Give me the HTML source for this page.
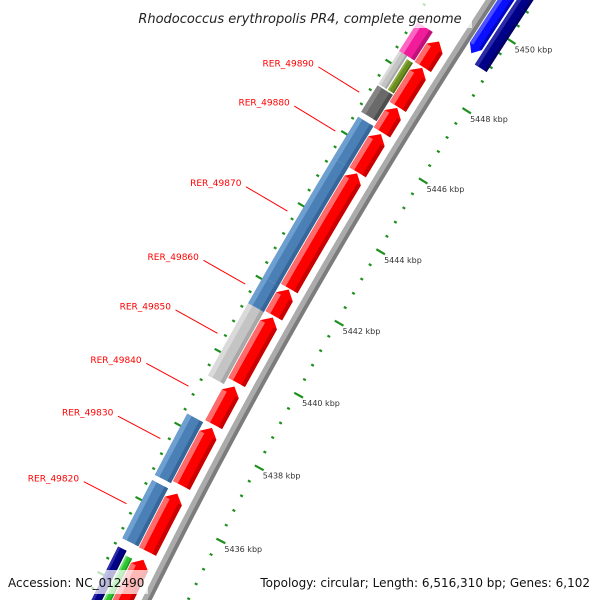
<!DOCTYPE html>
<html><head><meta charset="utf-8"><style>
html,body{margin:0;padding:0;background:#fff;width:600px;height:600px;overflow:hidden;}
svg{display:block;}
</style></head><body>
<svg id="map" width="600" height="600" viewBox="0 0 600 600" xmlns="http://www.w3.org/2000/svg">
<g id="ticks"></g>
<g id="backbone"></g>
<g id="features"></g>
<g id="labels"></g>
<g id="kbp"></g>
<rect x="128" y="2" width="344" height="26" fill="#fff" fill-opacity="0.72"/>
<text x="300" y="23" text-anchor="middle" font-family="DejaVu Sans, sans-serif" font-style="italic" font-size="13" fill="#222">Rhodococcus erythropolis PR4, complete genome</text>
<rect x="0" y="570" width="148" height="24" fill="#fff" fill-opacity="0.72"/>
<text x="8" y="587" font-family="DejaVu Sans, sans-serif" font-size="12" fill="#111">Accession: NC_012490</text>
<rect x="257" y="570" width="343" height="24" fill="#fff" fill-opacity="0.72"/>
<text x="590" y="587" text-anchor="end" font-family="DejaVu Sans, sans-serif" font-size="12" fill="#111">Topology: circular; Length: 6,516,310 bp; Genes: 6,102</text>
</svg>
<script>
// ---- data (kbp positions) ----
const majorTicks = [5432,5434,5436,5438,5440,5442,5444,5446,5448,5450,5452];
const tickLabels = ["5432 kbp","5434 kbp","5436 kbp","5438 kbp","5440 kbp","5442 kbp","5444 kbp","5446 kbp","5448 kbp","5450 kbp","5452 kbp"];
const minorStep = 0.4;

const redStarts = [5432.3,5434.97,5436.75,5438.40,5439.55,5441.38,5442.13,5445.36,5446.48,5447.20,5448.33];
const redEnds   = [5434.75,5436.53,5438.31,5439.44,5441.33,5442.10,5445.33,5446.43,5447.17,5448.30,5449.05];
const redNames  = ["","","","RER_49840","","","","","","",""];

const outerStarts = [5432.3,5432.3,5434.98,5436.68,5439.37,5441.34,5442.06,5445.35,5446.64,5447.42,5447.42,5448.35];
const outerEnds   = [5434.76,5434.65,5436.54,5438.33,5441.34,5442.06,5445.35,5446.50,5447.38,5448.42,5448.28,5449.16];
const outerKinds  = ["navy","green","blue","blue","lgray","blue","blue","blue","dgray","lgray","olive","pink"];
const outerLanes  = ["out","in","full","full","full","full","full","full","full","out","in","full"];
const outerNames  = ["","","RER_49820","RER_49830","RER_49850","RER_49860","RER_49870","RER_49880","RER_49890","","",""];

const innerStarts = [5449.23,5449.05];
const innerEnds   = [5452.5,5452.5];
const innerKinds  = ["brightblue","navy"];

// ---- geometry ----
const CX=5320, CY=3170, TH0=-150.25, K=0.4125;
function P(bp,r){const t=(TH0+(bp-5442)*K)*Math.PI/180;return [CX+r*Math.cos(t),CY+r*Math.sin(t)];}
function arc(b1,b2,r){const n=Math.max(2,Math.ceil(Math.abs(b2-b1)/0.25));const a=[];for(let i=0;i<=n;i++){a.push(P(b1+(b2-b1)*i/n,r));}return a;}
function ps(a){return a.map(p=>p[0].toFixed(2)+","+p[1].toFixed(2)).join(" ");}
const NS="http://www.w3.org/2000/svg";
function poly(parent,pts,fill,name){const e=document.createElementNS(NS,"polygon");e.setAttribute("points",ps(pts));e.setAttribute("fill",fill);


parent.appendChild(e);return e;}
function band(parent,b1,b2,r1,r2,fill,name){return poly(parent,arc(b1,b2,r2).concat(arc(b2,b1,r1)),fill,name);}
const PAL={red:["#ff0000","#ff6a6a","#c80000"],blue:["#4a80b6","#6d9fd0","#36669a"],lgray:["#c4c4c4","#dadada","#a8a8a8"],
dgray:["#6a6a6a","#858585","#4e4e4e"],navy:["#000088","#2a2aa8","#000066"],green:["#2fc42f","#6ae06a","#1f9a1f"],
olive:["#6b8e23","#8aab3c","#4f6c14"],pink:["#f01c9a","#ff66c4","#c0107a"],brightblue:["#0a10ff","#4a50ff","#0008c0"]};

function feature(parent,b1,b2,r1,r2,kind,arrow,name){
  const c=PAL[kind];const h=0.2;const w=r2-r1;
  const g=document.createElementNS(NS,"g");
  
  
  parent.appendChild(g);
  let s=b1,e=b2;
  if(arrow==="fwd"){e=b2-h;}
  if(arrow==="rev"){s=b1+h;}
  let pts=arc(s,e,r2);
  if(arrow==="fwd")pts.push(P(b2,(r1+r2)/2));
  pts=pts.concat(arc(e,s,r1));
  if(arrow==="rev")pts.push(P(b1,(r1+r2)/2));
  poly(g,pts,c[0],'feature-body');
  band(g,s,e,r2-w*0.28,r2,c[1],'feature-highlight');
  band(g,s,e,r1,r1+w*0.22,c[2],'feature-shade');
  return g;
}

// ticks
const tg=document.getElementById("ticks");
function tick(bp,r1,r2,wd,name){const a=P(bp,r1),b=P(bp,r2);const l=document.createElementNS(NS,"line");
l.setAttribute("x1",a[0]);l.setAttribute("y1",a[1]);l.setAttribute("x2",b[0]);l.setAttribute("y2",b[1]);
l.setAttribute("stroke","#1f8f1f");l.setAttribute("stroke-width",wd);


tg.appendChild(l);}
for(let i=0;i<majorTicks.length-1;i++){
  const m=majorTicks[i];
  tick(m,5823,5833,2.2,'outer-major-tick');
  tick(m,5732,5742,2.2,'inner-major-tick');
  for(let j=1;j<5;j++){const b=m+j*minorStep;tick(b,5828.5,5831.5,2.2,'outer-minor-tick');tick(b,5738,5741,2.2,'inner-minor-tick');}
}
// backbone
const bb=document.getElementById("backbone");
band(bb,5430,5454,5776,5781,"#ababab",'backbone-outer');
band(bb,5430,5454,5772,5776,"#7c7c7c",'backbone-inner');

// features
const fg=document.getElementById("features");
for(let i=0;i<redStarts.length;i++){feature(fg,redStarts[i],redEnds[i],5788,5807,"red","fwd",redNames[i]||'red-feature');}
for(let i=0;i<outerStarts.length;i++){
  let r1=5808,r2=5826;
  if(outerLanes[i]==="out"){r1=5816.5;}
  if(outerLanes[i]==="in"){r2=5815;}
  feature(fg,outerStarts[i],outerEnds[i],r1,r2,outerKinds[i],"none",outerNames[i]||('feature-'+outerKinds[i]));
}
feature(fg,innerStarts[0],innerEnds[0],5757,5771,innerKinds[0],"rev",'inner-blue-feature');
feature(fg,innerStarts[1],innerEnds[1],5741,5755,innerKinds[1],"none",'inner-navy-feature');

// feature labels
const lg=document.getElementById("labels");
function label(name,mid){
  const a=P(mid,5838),b=P(mid,5886),t=P(mid,5889);
  const l=document.createElementNS(NS,"line");
  l.setAttribute("x1",a[0]);l.setAttribute("y1",a[1]);l.setAttribute("x2",b[0]);l.setAttribute("y2",b[1]);
  l.setAttribute("stroke","#ff0000");l.setAttribute("stroke-width","1");
  
  
  lg.appendChild(l);
  const tx=document.createElementNS(NS,"text");
  tx.setAttribute("x",t[0]-2);tx.setAttribute("y",t[1]+1);tx.setAttribute("text-anchor","end");
  tx.setAttribute("font-family","DejaVu Sans, sans-serif");tx.setAttribute("font-size","9");tx.setAttribute("fill","#ff0000");
  
  
  tx.textContent=name;lg.appendChild(tx);
}
for(let i=0;i<redNames.length;i++)if(redNames[i])label(redNames[i],(redStarts[i]+redEnds[i])/2);
for(let i=0;i<outerNames.length;i++)if(outerNames[i])label(outerNames[i],(outerStarts[i]+outerEnds[i])/2);

// kbp labels
const kg=document.getElementById("kbp");
for(let i=0;i<majorTicks.length;i++){
  const p=P(majorTicks[i],5733);
  const tx=document.createElementNS(NS,"text");
  tx.setAttribute("x",p[0]);tx.setAttribute("y",p[1]+9);
  tx.setAttribute("font-family","DejaVu Sans, sans-serif");tx.setAttribute("font-size","8");tx.setAttribute("fill","#333");
  
  
  tx.textContent=tickLabels[i];kg.appendChild(tx);
}
</script>
</body></html>
